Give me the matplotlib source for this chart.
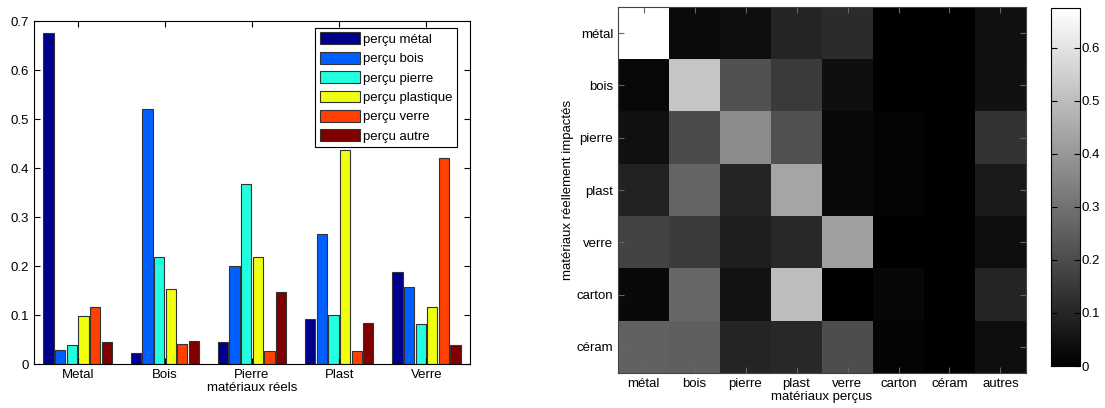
import numpy as np
import matplotlib
matplotlib.use("Agg")
import matplotlib.pyplot as plt

plt.rcParams['font.family'] = ['Liberation Sans', 'DejaVu Sans']
plt.rcParams['font.size'] = 9.5

# --- bar chart data (left) ---
real_materials = ['Metal', 'Bois', 'Pierre', 'Plast', 'Verre']
series_labels = ['perçu métal', 'perçu bois', 'perçu pierre',
                 'perçu plastique', 'perçu verre', 'perçu autre']
percu_metal = [0.675, 0.022, 0.044, 0.092, 0.188]
percu_bois = [0.028, 0.520, 0.200, 0.265, 0.158]
percu_pierre = [0.038, 0.218, 0.367, 0.100, 0.081]
percu_plastique = [0.098, 0.153, 0.218, 0.436, 0.116]
percu_verre = [0.116, 0.040, 0.026, 0.026, 0.420]
percu_autre = [0.044, 0.046, 0.147, 0.083, 0.038]
bar_colors = ['#00008f', '#0060ff', '#20ffdf', '#f0ff10', '#ff4000', '#800000']

# --- confusion matrix data (right) ---
rows_real = ['métal', 'bois', 'pierre', 'plast', 'verre', 'carton', 'céram']
cols_percus = ['métal', 'bois', 'pierre', 'plast', 'verre', 'carton', 'céram', 'autres']
conf = [
    [0.675, 0.028, 0.038, 0.098, 0.116, 0.000, 0.000, 0.044],
    [0.022, 0.520, 0.218, 0.153, 0.040, 0.000, 0.000, 0.046],
    [0.044, 0.200, 0.367, 0.218, 0.026, 0.012, 0.000, 0.135],
    [0.092, 0.265, 0.100, 0.436, 0.026, 0.012, 0.000, 0.071],
    [0.178, 0.158, 0.081, 0.108, 0.420, 0.000, 0.000, 0.038],
    [0.024, 0.272, 0.048, 0.503, 0.000, 0.021, 0.000, 0.100],
    [0.259, 0.251, 0.095, 0.106, 0.204, 0.011, 0.000, 0.037],
]

fig = plt.figure(figsize=(11.05, 4.08), dpi=100)

# left: grouped bars
ax = fig.add_axes([0.0308, 0.1078, 0.3946, 0.8407])
series = [percu_metal, percu_bois, percu_pierre, percu_plastique, percu_verre, percu_autre]
x = np.arange(1, len(real_materials) + 1)
slot = 0.8 / len(series)
for i, (vals, lab, col) in enumerate(zip(series, series_labels, bar_colors)):
    offs = (i - (len(series) - 1) / 2) * slot
    ax.bar(x + offs, vals, width=slot * 0.88, color=col, edgecolor='#333333',
           linewidth=0.8, label=lab)
ax.set_xlim(0.5, len(real_materials) + 0.5)
ax.set_ylim(0, 0.7)
ax.set_xticks(x)
ax.set_xticklabels(real_materials)
ax.set_yticks(np.arange(0, 0.71, 0.1))
ax.set_yticklabels(['0', '0.1', '0.2', '0.3', '0.4', '0.5', '0.6', '0.7'])
ax.tick_params(direction='in', top=True, right=True, length=4, width=0.8)
ax.set_xlabel('matériaux réels', labelpad=1)
leg = ax.legend(loc='upper right', bbox_to_anchor=(0.970, 0.980),
                fancybox=False, edgecolor='black',
                framealpha=1, handlelength=3.0, handleheight=1.0,
                labelspacing=0.45, handletextpad=0.25, borderpad=0.35,
                borderaxespad=0)
leg.get_frame().set_linewidth(0.8)

# right: confusion matrix
ax2 = fig.add_axes([0.5593, 0.0858, 0.3692, 0.897])
im = ax2.imshow(np.array(conf), cmap='gray', vmin=0, vmax=0.675,
                aspect='auto', interpolation='nearest')
ax2.set_xticks(range(len(cols_percus)))
ax2.set_xticklabels(cols_percus)
ax2.set_yticks(range(len(rows_real)))
ax2.set_yticklabels(rows_real)
ax2.tick_params(direction='in', top=True, right=True, length=4, width=0.8,
                color='#666666')
ax2.set_xlabel('matériaux perçus', labelpad=1)
ax2.set_ylabel('matériaux réellement impactés', labelpad=2)
for s in ax2.spines.values():
    s.set_color('#444444')

cax = fig.add_axes([0.9511, 0.1029, 0.02624, 0.8775])
cb = fig.colorbar(im, cax=cax, ticks=np.arange(0, 0.61, 0.1))
cb.ax.set_yticklabels(['0', '0.1', '0.2', '0.3', '0.4', '0.5', '0.6'])
cb.ax.tick_params(direction='in', left=True, right=True, length=4, width=0.8,
                  pad=1)
cb.outline.set_linewidth(0.8)

fig.savefig('out.png', dpi=100)
